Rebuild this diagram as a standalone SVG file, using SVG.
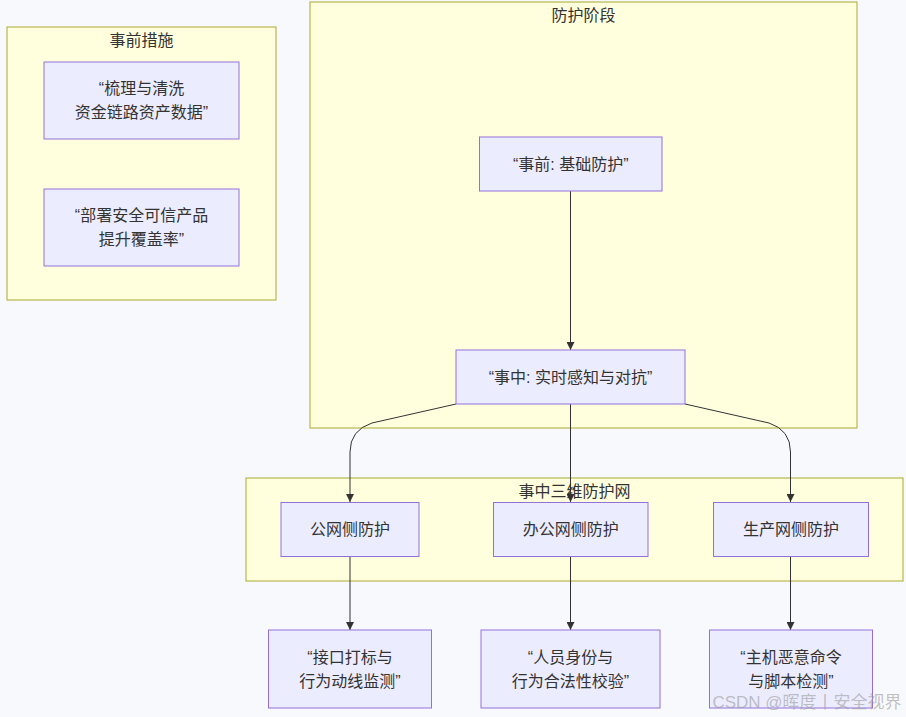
<svg xmlns="http://www.w3.org/2000/svg" width="906" height="717" viewBox="0 0 906 717">
<style>
.cluster{fill:#ffffde;stroke:#aaaa33;stroke-width:1}
.node rect{fill:#ececff;stroke:#9370db;stroke-width:1}
text{font-family:"Liberation Sans","Noto Sans CJK SC",sans-serif;font-size:16px;fill:#333;text-anchor:middle;dominant-baseline:central}
.edge{fill:none;stroke:#333;stroke-width:1}
.wm{fill:#9a9a9a;fill-opacity:0.6;font-size:17px}
</style>
<defs>
<marker id="arr" viewBox="0 0 10 10" refX="10" refY="5" markerWidth="8" markerHeight="8" markerUnits="userSpaceOnUse" orient="auto">
<path d="M0,0 L10,5 L0,10 z" fill="#333"/>
</marker>
</defs>
<rect width="906" height="717" fill="#f8f9fc"/>
<g id="cluster-pre">
<rect class="cluster" x="7" y="27" width="269" height="273"/>
<text x="141.5" y="40">事前措施</text>
</g>
<g id="cluster-phase">
<rect class="cluster" x="310" y="2" width="547" height="426"/>
<text x="583.5" y="15">防护阶段</text>
</g>
<g id="cluster-net">
<rect class="cluster" x="246" y="478" width="657" height="103"/>
<text x="574.5" y="491">事中三维防护网</text>
</g>
<g id="connectors">
<path class="edge" d="M570.5,191 L570.5,350" marker-end="url(#arr)"/>
<path class="edge" d="M456,404 L372,423 Q350,430 350,452 L350,502" marker-end="url(#arr)"/>
<path class="edge" d="M570.5,404 L570.5,502" marker-end="url(#arr)"/>
<path class="edge" d="M685,404 L769,423 Q790.5,430 790.5,452 L790.5,502" marker-end="url(#arr)"/>
<path class="edge" d="M350,556 L350,630" marker-end="url(#arr)"/>
<path class="edge" d="M570.5,556 L570.5,630" marker-end="url(#arr)"/>
<path class="edge" d="M790.5,556 L790.5,630" marker-end="url(#arr)"/>
</g>
<g id="n-sort" class="node">
<rect x="44" y="62" width="195" height="77"/>
<text x="141.5" y="88.5">“梳理与清洗</text>
<text x="141.5" y="112.5">资金链路资产数据”</text>
</g>
<g id="n-deploy" class="node">
<rect x="44" y="189" width="195" height="77"/>
<text x="141.5" y="215.5">“部署安全可信产品</text>
<text x="141.5" y="239.5">提升覆盖率”</text>
</g>
<g id="n-before" class="node">
<rect x="479.5" y="137" width="182.5" height="54"/>
<text x="570.75" y="164">“事前: 基础防护”</text>
</g>
<g id="n-during" class="node">
<rect x="456" y="350" width="229" height="54"/>
<text x="570.5" y="377">“事中: 实时感知与对抗”</text>
</g>
<g id="n-public" class="node">
<rect x="281" y="502.5" width="138" height="54"/>
<text x="350" y="529.5">公网侧防护</text>
</g>
<g id="n-office" class="node">
<rect x="493.5" y="502.5" width="154.5" height="54"/>
<text x="570.75" y="529.5">办公网侧防护</text>
</g>
<g id="n-prod" class="node">
<rect x="713.5" y="502.5" width="155" height="54"/>
<text x="791" y="529.5">生产网侧防护</text>
</g>
<g id="n-api" class="node">
<rect x="268.5" y="630" width="163" height="78"/>
<text x="350" y="657">“接口打标与</text>
<text x="350" y="681">行为动线监测”</text>
</g>
<g id="n-person" class="node">
<rect x="481" y="630" width="179" height="78"/>
<text x="570.5" y="657">“人员身份与</text>
<text x="570.5" y="681">行为合法性校验”</text>
</g>
<g id="n-host" class="node">
<rect x="709.5" y="630" width="163" height="78"/>
<text x="791" y="657">“主机恶意命令</text>
<text x="791" y="681">与脚本检测”</text>
</g>
<text class="wm" x="807" y="702">CSDN @晖度丨安全视界</text>
</svg>
